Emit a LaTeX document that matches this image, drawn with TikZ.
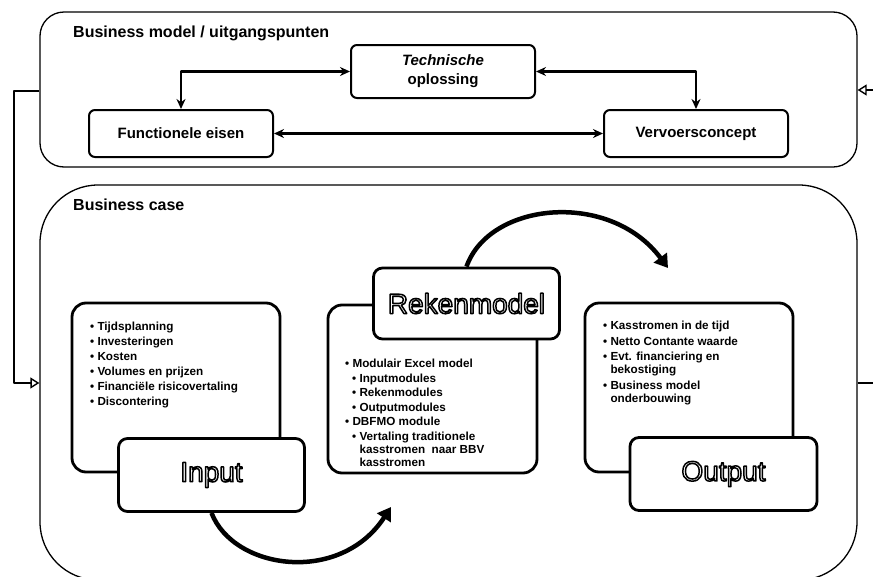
\documentclass[tikz,border=0pt]{standalone}
\usepackage{fontspec}
\setmainfont{Liberation Sans}
\usetikzlibrary{arrows.meta}
\newcommand{\hollow}[1]{\special{pdf:literal direct 1 Tr 1.5 w}#1\special{pdf:literal direct 0 Tr}}

\begin{document}
\begin{tikzpicture}[x=1pt, y=-1pt, line join=round,
  panel/.style={draw, line width=1.3pt, inner sep=0pt, minimum width=817pt},
  title/.style={anchor=west, inner sep=0pt, font=\fontsize{16}{18}\selectfont\bfseries},
  topbox/.style={draw, line width=2pt, rounded corners=6pt, align=center, minimum width=184pt, minimum height=47pt, font=\fontsize{15}{19}\selectfont\bfseries},
  listbox/.style={draw, line width=2.8pt, rounded corners=14pt, minimum width=208pt, minimum height=169pt},
  headbox/.style={draw, fill=white, line width=2.8pt, rounded corners=9pt, minimum width=186pt, minimum height=73pt, font=\fontsize{28}{30}\selectfont},
  items/.style={anchor=north west, inner sep=0pt, align=left, font=\fontsize{11.7}{13}\selectfont\bfseries},
  link/.style={line width=2.6pt, {Stealth[length=10pt,width=9pt]}-{Stealth[length=10pt,width=9pt]}},
  flow/.style={line width=4.5pt, -{Triangle[length=13pt,width=16pt]}},
  feedback/.style={line width=2.2pt, -{Triangle[open,fill=white,length=9pt,width=11pt,line width=1.4pt]}}
]
\useasboundingbox (0,0) rectangle (873,576);

% business model
\node[panel, rounded corners=24pt, minimum height=155pt] (bmbox) at (448.5,89.5) {};
\node[title] (bmtitle) at (73,33) {Business model / uitgangspunten};

\node[topbox, minimum height=53pt] (tech) at (443,71.5) {\textit{Technische}\\oplossing};
\node[topbox] (func) at (181,133.5) {Functionele eisen};
\node[topbox] (verv) at (696,133.5) {Vervoersconcept};

\draw[link] (tech.west) -| (func.north);
\draw[link] (tech.east) -| (verv.north);
\draw[link] (func.east) -- (verv.west);

% business case
\node[panel, rounded corners=58pt, minimum height=395pt] (bcbox) at (448.5,382.5) {};
\node[title] (bctitle) at (73,205) {Business case};

\node[listbox] (inbox) at (176,387.5) {};
\node[headbox] (inhead) at (211.5,475) {\hollow{Input}};
\node[items] (inlist) at (90,322) {\textbullet\ Tijdsplanning\\[2pt]
  \textbullet\ Investeringen\\[2pt]
  \textbullet\ Kosten\\[2pt]
  \textbullet\ Volumes en prijzen\\[2pt]
  \textbullet\ Financiële risicovertaling\\[2pt]
  \textbullet\ Discontering};

\node[listbox, minimum width=209pt, minimum height=168pt] (rkbox) at (432.5,389) {};
\node[headbox, minimum height=71pt] (rkhead) at (466.5,303.5) {\hollow{Rekenmodel}};
\node[items] (rklist) at (345,359) {\textbullet\ Modulair Excel model\\[1.5pt]
  \hspace{7pt}\textbullet\ Inputmodules\\[1.5pt]
  \hspace{7pt}\textbullet\ Rekenmodules\\[1.5pt]
  \hspace{7pt}\textbullet\ Outputmodules\\[1.5pt]
  \textbullet\ DBFMO module\\[1.5pt]
  \hspace{7pt}\textbullet\ Vertaling traditionele\\
  \hspace{7pt}\phantom{\textbullet\ }kasstromen\ \ naar BBV\\
  \hspace{7pt}\phantom{\textbullet\ }kasstromen};

\node[listbox] (outbox) at (689,387.5) {};
\node[headbox, minimum width=187pt] (outhead) at (723.5,474) {\hollow{Output}};
\node[items] (outlist) at (603,321) {\textbullet\ Kasstromen in de tijd\\[2.5pt]
  \textbullet\ Netto Contante waarde\\[2.5pt]
  \textbullet\ Evt. financiering en\\
  \phantom{\textbullet\ }bekostiging\\[2.5pt]
  \textbullet\ Business model\\
  \phantom{\textbullet\ }onderbouwing};

% flow between the steps
\coordinate (arcA) at (391,507);
\coordinate (arcB) at (668,268);
\draw[flow] (inhead.south) .. controls +(22,57) and +(-51,78) .. (arcA);
\draw[flow] (rkhead.north) .. controls +(23,-65) and +(-58,-78) .. (arcB);

% feedback lines
\coordinate (fbtop) at (14,91);
\coordinate (fbbot) at (14,383);
\coordinate (rtop) at (873,90);
\coordinate (rbot) at (873,383);
\draw[feedback] (bmbox.west |- fbtop) -- (fbtop) -- (fbbot) -- (bcbox.west |- fbbot);
\draw[line width=2.2pt] (bcbox.east |- rbot) -- (rbot);
\draw[feedback] (rtop) -- (bmbox.east |- rtop);
\end{tikzpicture}
\end{document}
